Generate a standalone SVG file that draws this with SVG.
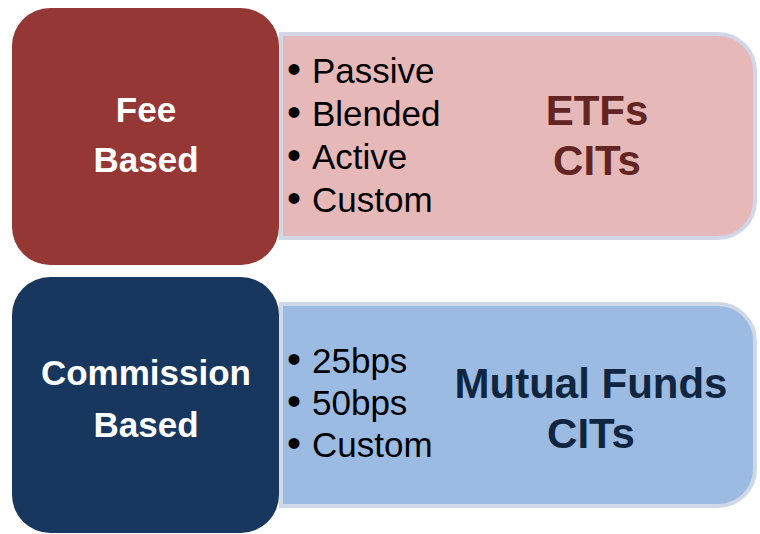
<svg xmlns="http://www.w3.org/2000/svg" width="760" height="534" viewBox="0 0 760 534">
<style>
.detail{stroke:#D0D8E8;stroke-width:4}
.head{font-family:"Liberation Sans",Arial,sans-serif;font-weight:bold;font-size:35px;fill:#ffffff;text-anchor:middle}
.item{font-family:"Liberation Sans",Arial,sans-serif;font-size:35px;fill:#000000}
.dot{font-size:40px}
.big{font-family:"Liberation Sans",Arial,sans-serif;font-weight:bold;font-size:42px;text-anchor:middle}
</style>
<rect width="760" height="534" fill="#ffffff"/>
<g id="fee-detail">
<path class="detail" d="M281,34 H718 A37,37 0 0 1 755,71 V201 A37,37 0 0 1 718,238 H281 Z" fill="#E6B9B8"/>
<text class="item" x="287" y="83"><tspan class="dot">•</tspan><tspan x="312">Passive</tspan></text>
<text class="item" x="287" y="126"><tspan class="dot">•</tspan><tspan x="312">Blended</tspan></text>
<text class="item" x="287" y="169"><tspan class="dot">•</tspan><tspan x="312">Active</tspan></text>
<text class="item" x="287" y="212"><tspan class="dot">•</tspan><tspan x="312">Custom</tspan></text>
<text class="big" x="597" y="125" fill="#632523">ETFs</text>
<text class="big" x="597" y="175" fill="#632523">CITs</text>
</g>
<g id="fee">
<rect x="12" y="8" width="267" height="257" rx="38" fill="#953735"/>
<text class="head" x="146" y="122">Fee</text>
<text class="head" x="146" y="172">Based</text>
</g>
<g id="commission-detail">
<path class="detail" d="M281,304 H718 A37,37 0 0 1 755,341 V469 A37,37 0 0 1 718,506 H281 Z" fill="#9BBBE3"/>
<text class="item" x="287" y="373"><tspan class="dot">•</tspan><tspan x="312">25bps</tspan></text>
<text class="item" x="287" y="415"><tspan class="dot">•</tspan><tspan x="312">50bps</tspan></text>
<text class="item" x="287" y="457"><tspan class="dot">•</tspan><tspan x="312">Custom</tspan></text>
<text class="big" x="591" y="398" fill="#10253F">Mutual Funds</text>
<text class="big" x="591" y="448" fill="#10253F">CITs</text>
</g>
<g id="commission">
<rect x="12" y="277" width="267" height="256" rx="38" fill="#17375E"/>
<text class="head" x="146" y="385">Commission</text>
<text class="head" x="146" y="437">Based</text>
</g>
<g id="connectors"/>
</svg>
